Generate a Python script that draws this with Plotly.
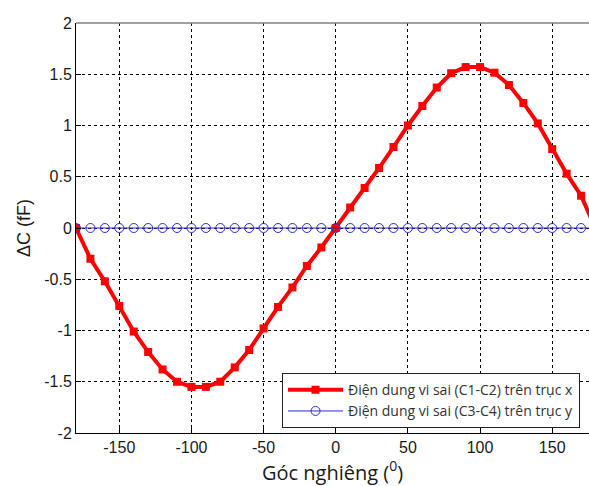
import plotly.graph_objects as go

angles = [-180, -170, -160, -150, -140, -130, -120, -110, -100, -90, -80, -70, -60, -50, -40, -30, -20, -10,
          0, 10, 20, 30, 40, 50, 60, 70, 80, 90, 100, 110, 120, 130, 140, 150, 160, 170, 180]
dc_x = [0.0, -0.30, -0.52, -0.76, -1.01, -1.21, -1.38, -1.50, -1.55, -1.55, -1.50, -1.36, -1.19, -0.98, -0.77, -0.58, -0.37, -0.19,
        0.0, 0.20, 0.39, 0.585, 0.79, 1.0, 1.19, 1.37, 1.51, 1.57, 1.57, 1.515, 1.395, 1.22, 1.02, 0.77, 0.53, 0.315, 0.0]
dc_y = [0.0] * len(angles)

name_x = "Điện dung vi sai (C1-C2) trên trục x"
name_y = "Điện dung vi sai (C3-C4) trên trục y"
x_ticks = [-150, -100, -50, 0, 50, 100, 150]
x_ticktext = ["-150", "-100", "-50", "0", "50", "100", "150"]
y_ticks = [-2, -1.5, -1, -0.5, 0, 0.5, 1, 1.5, 2]
y_ticktext = ["-2", "-1.5", "-1", "-0.5", "0", "0.5", "1", "1.5", "2"]

fig = go.Figure()
fig.add_trace(go.Scatter(x=angles, y=dc_x, mode="lines+markers", name=name_x,
                         line=dict(color="#ff0000", width=4),
                         marker=dict(symbol="square", size=8, color="#ff0000")))
fig.add_trace(go.Scatter(x=angles, y=dc_y, mode="lines+markers", name=name_y,
                         line=dict(color="#2b2bd0", width=1),
                         marker=dict(symbol="circle-open", size=9, color="#2b2bd0", line=dict(width=1))))

tick_font = dict(family="Liberation Sans, Arial", size=16, color="#1a1a1a")
fig.update_layout(
    width=589, height=486,
    margin=dict(l=76, r=0, t=23, b=53),
    paper_bgcolor="white", plot_bgcolor="white",
    showlegend=True,
    legend=dict(x=0.4016, y=0.146, xanchor="left", yanchor="top",
                bordercolor="#222222", borderwidth=1, bgcolor="white",
                font=dict(family="Open Sans", size=14, color="#333333"),
                itemwidth=55, tracegroupgap=0),
    xaxis=dict(range=[-180, 175.5], tickvals=x_ticks, ticktext=x_ticktext, ticks="inside", ticklen=5, tickcolor="black",
               showline=True, linecolor="black", linewidth=1, mirror=False,
               showgrid=True, gridcolor="black", gridwidth=1, griddash="3px,3px",
               zeroline=False, tickfont=tick_font,
               title=dict(text="Góc nghiêng (<sup>0</sup>)", font=dict(family="Open Sans", size=20, color="#1a1a1a"), standoff=6)),
    yaxis=dict(range=[-2, 2], tickvals=y_ticks, ticktext=y_ticktext,
               ticks="inside", ticklen=5, tickcolor="black",
               showline=True, linecolor="black", linewidth=1,
               showgrid=True, gridcolor="black", gridwidth=1, griddash="3px,3px",
               zeroline=False, tickfont=tick_font,
               title=dict(text="ΔC (fF)", font=dict(family="Liberation Sans, Arial", size=18, color="#1a1a1a"), standoff=8)),
)
fig.add_shape(type="line", xref="paper", yref="paper", x0=0, x1=1, y0=1, y1=1,
              line=dict(color="#808080", width=1.5))
fig.write_html("out.html")
